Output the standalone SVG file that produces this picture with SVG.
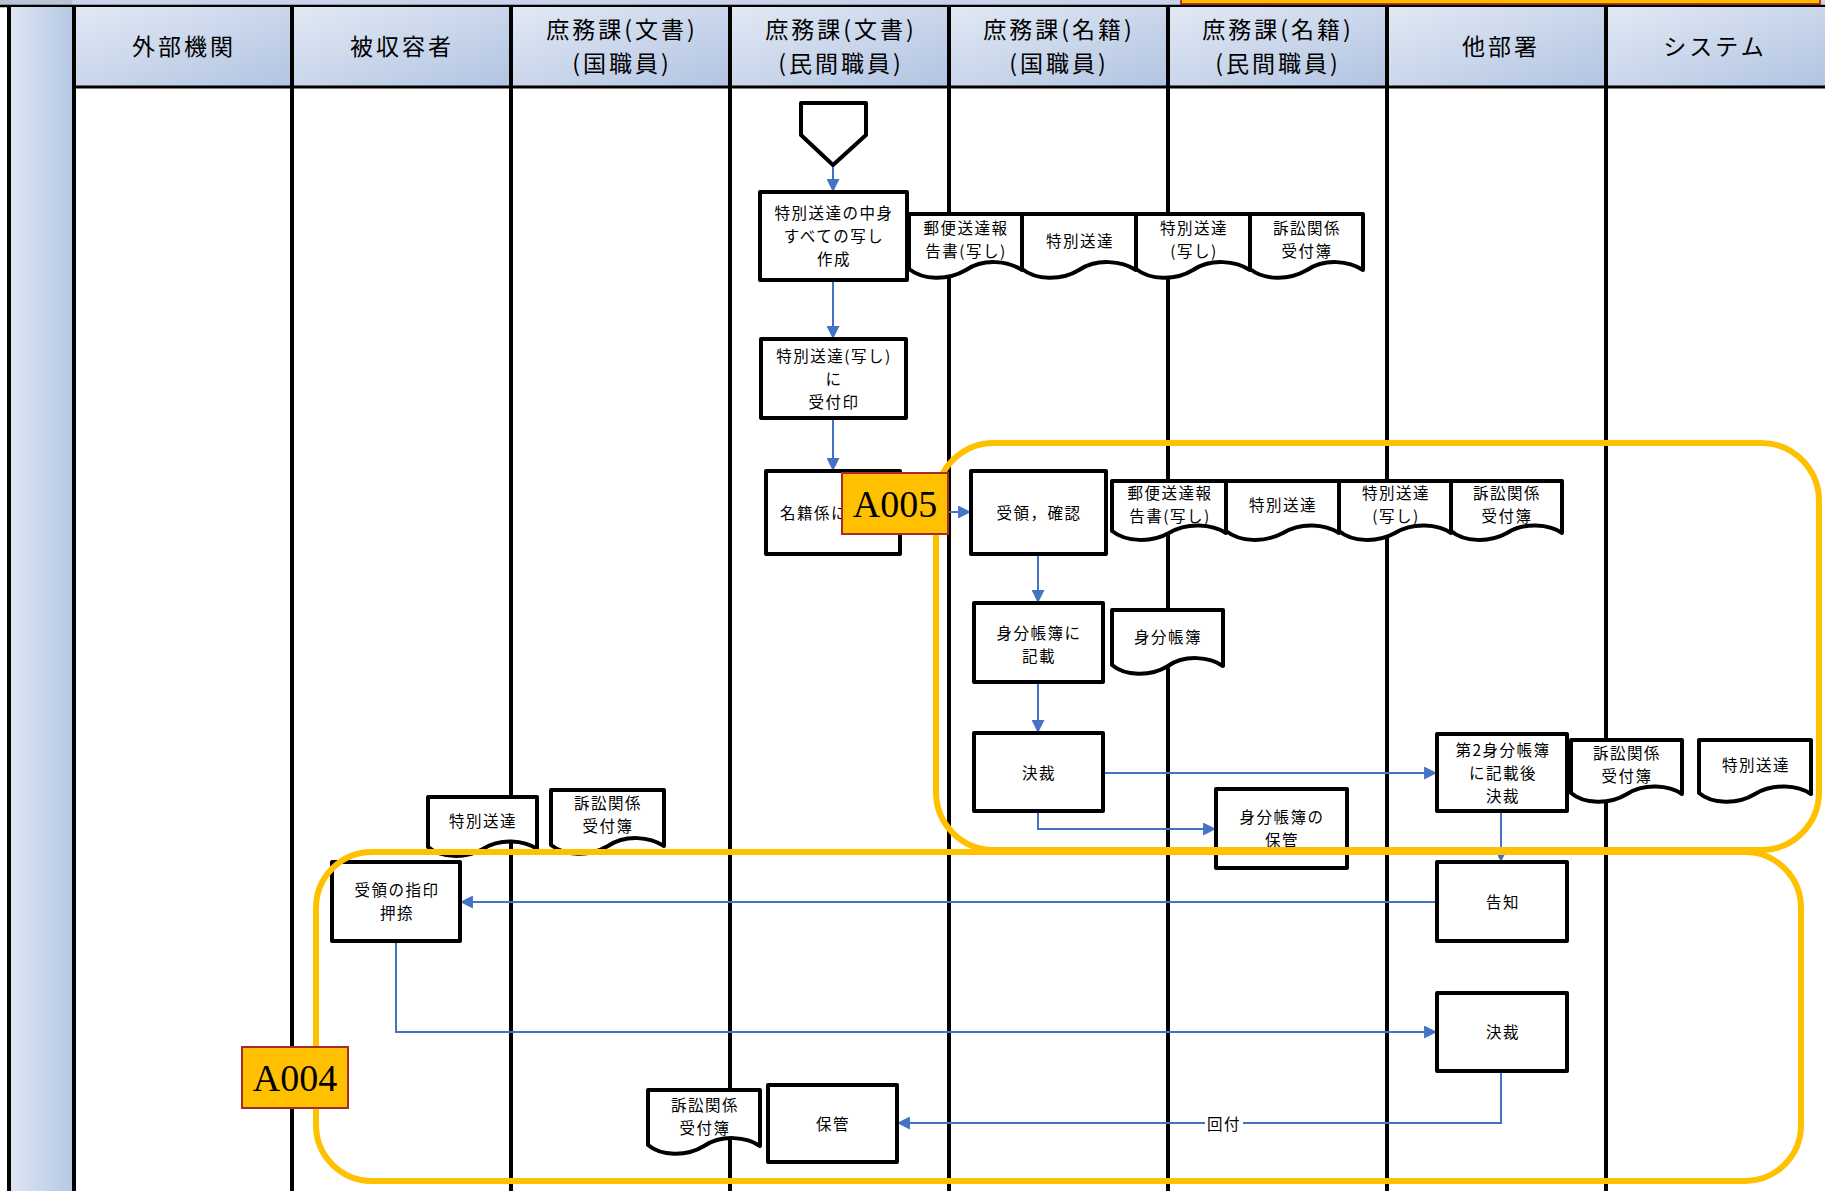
<svg xmlns="http://www.w3.org/2000/svg" width="1825" height="1191" viewBox="0 0 1825 1191">
  <style>
    .t { font-family: "Noto Sans CJK JP", "Noto Sans", sans-serif; font-size: 15.5px; letter-spacing: 1.5px; fill: #000; text-anchor: middle; dominant-baseline: central; }
    .h { font-size: 23px; letter-spacing: 3px; }
    .box { fill: #fff; stroke: #000; stroke-width: 4; stroke-linejoin: round; }
    .doc { fill: #fff; stroke: #000; stroke-width: 4; stroke-linejoin: round; }
    .lane { stroke: #000; stroke-width: 4; }
    .conn { fill: none; stroke: #4472c4; stroke-width: 2; marker-end: url(#arrow); }
    .group { fill: none; stroke: #ffc000; stroke-width: 6; }
    .tag { fill: #ffc000; stroke: #a52a2a; stroke-width: 2; }
    .tagtext { font-family: "Liberation Serif", serif; font-size: 38px; fill: #000; text-anchor: middle; dominant-baseline: central; }
  </style>
  <defs>
    <linearGradient id="hdr" x1="0" y1="0" x2="1" y2="1">
      <stop offset="0" stop-color="#e2e9f4"/>
      <stop offset="1" stop-color="#b2c4e2"/>
    </linearGradient>
    <linearGradient id="strip" x1="0" y1="0" x2="1" y2="0">
      <stop offset="0" stop-color="#dfe6f2"/>
      <stop offset="1" stop-color="#b5c8e4"/>
    </linearGradient>
    <marker id="arrow" markerUnits="userSpaceOnUse" markerWidth="13" markerHeight="13" viewBox="0 0 12 12" refX="11" refY="6" orient="auto">
      <path d="M0,0 L12,6 L0,12 z" fill="#4472c4"/>
    </marker>
  </defs>

  <!-- page background -->
  <rect x="0" y="0" width="1825" height="1191" fill="#fff"/>

  <!-- top band -->
  <rect x="0" y="0" width="1825" height="6" fill="#c7d4ea"/>
  <rect x="0" y="0" width="72" height="6" fill="#b9c4d6"/>
  <rect x="1181" y="-3" width="639" height="7" fill="#ffc000" stroke="#c00000" stroke-width="1.5"/>
  <line x1="0" y1="6" x2="1825" y2="6" stroke="#000" stroke-width="2.5"/>

  <!-- lane headers -->
  <g id="headers">
    <rect x="9" y="7" width="64" height="1184" fill="url(#strip)"/>
    <rect x="73" y="7" width="219" height="79" fill="url(#hdr)"/>
    <rect x="292" y="7" width="219" height="79" fill="url(#hdr)"/>
    <rect x="511" y="7" width="219" height="79" fill="url(#hdr)"/>
    <rect x="730" y="7" width="219" height="79" fill="url(#hdr)"/>
    <rect x="949" y="7" width="219" height="79" fill="url(#hdr)"/>
    <rect x="1168" y="7" width="219" height="79" fill="url(#hdr)"/>
    <rect x="1387" y="7" width="219" height="79" fill="url(#hdr)"/>
    <rect x="1606" y="7" width="219" height="79" fill="url(#hdr)"/>
    <line x1="73" y1="87" x2="1825" y2="87" stroke="#000" stroke-width="3"/>
    <text class="t h" x="184" y="45">外部機関</text>
    <text class="t h" x="402" y="45">被収容者</text>
    <text class="t h"><tspan x="622" y="28">庶務課(文書)</tspan><tspan x="622" y="62">(国職員)</tspan></text>
    <text class="t h"><tspan x="841" y="28">庶務課(文書)</tspan><tspan x="841" y="62">(民間職員)</tspan></text>
    <text class="t h"><tspan x="1059" y="28">庶務課(名籍)</tspan><tspan x="1059" y="62">(国職員)</tspan></text>
    <text class="t h"><tspan x="1278" y="28">庶務課(名籍)</tspan><tspan x="1278" y="62">(民間職員)</tspan></text>
    <text class="t h" x="1501" y="45">他部署</text>
    <text class="t h" x="1715" y="45">システム</text>
  </g>

  <!-- lane dividers -->
  <g id="lanes">
    <line class="lane" x1="9" y1="6" x2="9" y2="1191"/>
    <line class="lane" x1="74" y1="6" x2="74" y2="1191"/>
    <line class="lane" x1="292" y1="6" x2="292" y2="1191"/>
    <line class="lane" x1="511" y1="6" x2="511" y2="1191"/>
    <line class="lane" x1="730" y1="6" x2="730" y2="1191"/>
    <line class="lane" x1="949" y1="6" x2="949" y2="1191"/>
    <line class="lane" x1="1168" y1="6" x2="1168" y2="1191"/>
    <line class="lane" x1="1387" y1="6" x2="1387" y2="1191"/>
    <line class="lane" x1="1606" y1="6" x2="1606" y2="1191"/>
  </g>

  <!-- connectors -->
  <g id="connectors">
    <path class="conn" d="M833,166 V191"/>
    <path class="conn" d="M833,280 V338"/>
    <path class="conn" d="M833,418 V470"/>
    <path class="conn" d="M900,512 H970"/>
    <path class="conn" d="M1038,554 V602"/>
    <path class="conn" d="M1038,682 V732"/>
    <path class="conn" d="M1103,773 H1436"/>
    <path class="conn" d="M1038,811 V829 H1215"/>
    <path class="conn" d="M1501,811 V861"/>
    <path class="conn" d="M1437,902 H461"/>
    <path class="conn" d="M396,941 V1032 H1436"/>
    <path class="conn" d="M1501,1071 V1123 H898"/>
    <rect x="1205" y="1112" width="38" height="22" fill="#fff"/>
    <text class="t" x="1224" y="1123">回付</text>
  </g>

  <!-- start connector -->
  <g id="n-start">
    <polygon class="box" points="801,103 866,103 866,135 833,165 801,135"/>
  </g>

  <g id="n-copy">
    <rect class="box" x="760" y="192" width="147" height="88"/>
    <text class="t"><tspan x="834" y="212">特別送達の中身</tspan><tspan x="834" y="235">すべての写し</tspan><tspan x="834" y="258">作成</tspan></text>
  </g>

  <g id="d-row1">
    <path class="doc" d="M909,214 H1022 V270 C1008,261 984,258 966,270 C947,281 923,280 909,269 Z"/>
    <path class="doc" d="M1022,214 H1136 V270 C1122,261 1097,258 1079,270 C1061,281 1036,280 1022,269 Z"/>
    <path class="doc" d="M1136,214 H1250 V270 C1236,261 1211,258 1193,270 C1175,281 1150,280 1136,269 Z"/>
    <path class="doc" d="M1250,214 H1363 V270 C1349,261 1325,258 1307,270 C1288,281 1264,280 1250,269 Z"/>
    <text class="t"><tspan x="966" y="227">郵便送達報</tspan><tspan x="966" y="250">告書(写し)</tspan></text>
    <text class="t" x="1080" y="240">特別送達</text>
    <text class="t"><tspan x="1194" y="227">特別送達</tspan><tspan x="1194" y="250">(写し)</tspan></text>
    <text class="t"><tspan x="1307" y="227">訴訟関係</tspan><tspan x="1307" y="250">受付簿</tspan></text>
  </g>

  <g id="n-stamp">
    <rect class="box" x="761" y="339" width="145" height="79"/>
    <text class="t"><tspan x="834" y="355">特別送達(写し)</tspan><tspan x="834" y="378">に</tspan><tspan x="834" y="401">受付印</tspan></text>
  </g>

  <g id="n-forward">
    <rect class="box" x="766" y="471" width="134" height="83"/>
    <text class="t" x="780" y="512" style="text-anchor:start">名籍係に</text>
  </g>

  <g id="n-receive">
    <rect class="box" x="971" y="471" width="135" height="83"/>
    <text class="t" x="1039" y="512">受領，確認</text>
  </g>

  <g id="d-row2">
    <path class="doc" d="M1112,481 H1226 V533 C1212,524 1187,522 1169,533 C1151,543 1126,542 1112,531 Z"/>
    <path class="doc" d="M1226,481 H1339 V533 C1325,524 1301,522 1283,533 C1264,543 1240,542 1226,531 Z"/>
    <path class="doc" d="M1339,481 H1451 V533 C1438,524 1413,522 1395,533 C1377,543 1352,542 1339,531 Z"/>
    <path class="doc" d="M1451,481 H1562 V533 C1549,524 1524,522 1507,533 C1489,543 1464,542 1451,531 Z"/>
    <text class="t"><tspan x="1170" y="492">郵便送達報</tspan><tspan x="1170" y="515">告書(写し)</tspan></text>
    <text class="t" x="1283" y="504">特別送達</text>
    <text class="t"><tspan x="1396" y="492">特別送達</tspan><tspan x="1396" y="515">(写し)</tspan></text>
    <text class="t"><tspan x="1507" y="492">訴訟関係</tspan><tspan x="1507" y="515">受付簿</tspan></text>
  </g>

  <g id="n-record">
    <rect class="box" x="974" y="603" width="129" height="79"/>
    <text class="t"><tspan x="1039" y="632">身分帳簿に</tspan><tspan x="1039" y="655">記載</tspan></text>
  </g>

  <g id="d-register">
    <path class="doc" d="M1112,610 H1223 V666 C1210,657 1185,654 1168,666 C1150,677 1125,676 1112,665 Z"/>
    <text class="t" x="1168" y="636">身分帳簿</text>
  </g>

  <g id="n-approve1">
    <rect class="box" x="974" y="733" width="129" height="78"/>
    <text class="t" x="1039" y="772">決裁</text>
  </g>

  <g id="n-store-register">
    <rect class="box" x="1216" y="789" width="131" height="79"/>
    <text class="t"><tspan x="1282" y="816">身分帳簿の</tspan><tspan x="1282" y="839">保管</tspan></text>
  </g>

  <g id="n-second">
    <rect class="box" x="1437" y="734" width="130" height="77"/>
    <text class="t"><tspan x="1503" y="749">第2身分帳簿</tspan><tspan x="1503" y="772">に記載後</tspan><tspan x="1503" y="795">決裁</tspan></text>
  </g>

  <g id="d-other">
    <path class="doc" d="M1571,740 H1682 V794 C1669,785 1644,783 1627,794 C1609,805 1584,804 1571,793 Z"/>
    <path class="doc" d="M1699,740 H1811 V794 C1798,785 1773,783 1755,794 C1737,805 1712,804 1699,793 Z"/>
    <text class="t"><tspan x="1627" y="752">訴訟関係</tspan><tspan x="1627" y="775">受付簿</tspan></text>
    <text class="t" x="1756" y="764">特別送達</text>
  </g>

  <g id="d-inmate">
    <path class="doc" d="M428,797 H537 V849 C524,840 500,838 483,849 C465,859 441,858 428,847 Z"/>
    <path class="doc" d="M551,790 H664 V846 C650,837 626,834 608,846 C589,857 565,856 551,845 Z"/>
    <text class="t" x="483" y="820">特別送達</text>
    <text class="t"><tspan x="608" y="802">訴訟関係</tspan><tspan x="608" y="825">受付簿</tspan></text>
  </g>

  <g id="n-notify">
    <rect class="box" x="1437" y="862" width="130" height="79"/>
    <text class="t" x="1503" y="901">告知</text>
  </g>

  <g id="n-fingerprint">
    <rect class="box" x="332" y="862" width="128" height="79"/>
    <text class="t"><tspan x="397" y="889">受領の指印</tspan><tspan x="397" y="912">押捺</tspan></text>
  </g>

  <g id="n-approve2">
    <rect class="box" x="1437" y="993" width="130" height="78"/>
    <text class="t" x="1503" y="1031">決裁</text>
  </g>

  <g id="d-keep">
    <path class="doc" d="M648,1090 H760 V1146 C747,1137 722,1134 704,1146 C686,1157 661,1156 648,1145 Z"/>
    <text class="t"><tspan x="705" y="1104">訴訟関係</tspan><tspan x="705" y="1127">受付簿</tspan></text>
  </g>

  <g id="n-keep">
    <rect class="box" x="768" y="1085" width="129" height="77"/>
    <text class="t" x="833" y="1123">保管</text>
  </g>

  <!-- activity groups -->
  <g id="group-A005">
    <rect class="group" x="936" y="443" width="883" height="407" rx="58" ry="58"/>
  </g>
  <g id="group-A004">
    <rect class="group" x="316" y="852" width="1485" height="329" rx="56" ry="56"/>
  </g>

  <g id="tag-A005">
    <rect class="tag" x="842" y="473" width="106" height="61"/>
    <text class="tagtext" x="895" y="504">A005</text>
  </g>
  <g id="tag-A004">
    <rect class="tag" x="242" y="1047" width="106" height="61"/>
    <text class="tagtext" x="295" y="1078">A004</text>
  </g>
</svg>
